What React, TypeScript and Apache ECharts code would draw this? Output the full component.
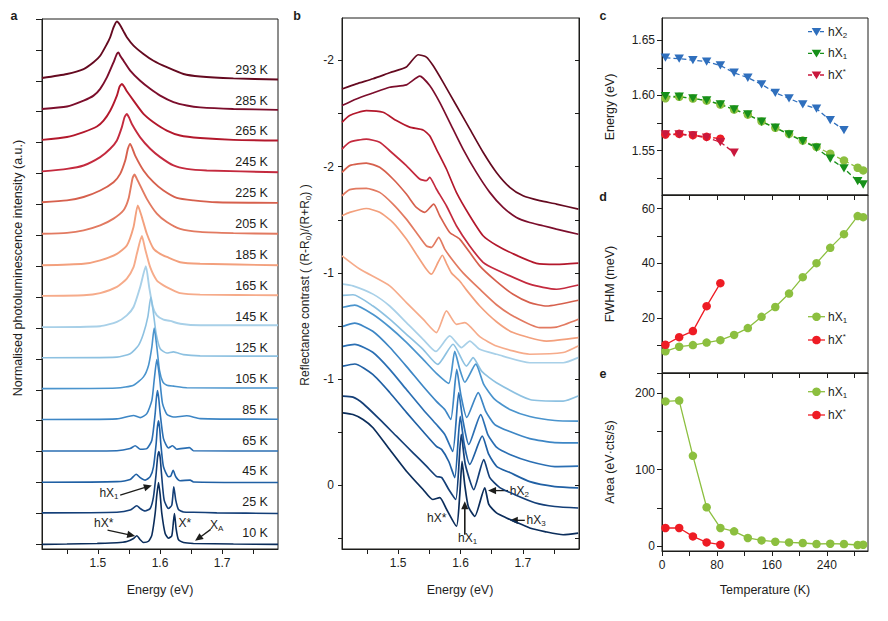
import { useEffect, useRef } from 'react';
import * as echarts from 'echarts';

const FONT = '"Liberation Sans", Arial, Helvetica, sans-serif';
const INK = '#1d1d1b';

// ---------- panels a & b : temperatures, stacking, colours ----------
const temperatureLabels = ['10 K', '25 K', '45 K', '65 K', '85 K', '105 K', '125 K', '145 K', '165 K', '185 K', '205 K', '225 K', '245 K', '265 K', '285 K', '293 K'];
const stackOffsets = [0, 1, 2, 3, 4, 5, 6, 7, 8, 9, 10, 11, 12, 13, 14, 15];
const curveColors = ['#0b2d5b', '#143f78', '#2060a4', '#2b6fb3', '#3d86c5', '#4a94cd', '#8dc1e1', '#a8d0e8', '#f6ab8a', '#f3a07d', '#e27a61', '#d6604d', '#c42a3e', '#b3182c', '#7c0e2c', '#650a20'];

// PL spectra: [energy (eV), normalised intensity]
const pl10K = [[1.41, 0], [1.45, 0.01], [1.4984, 0.03], [1.5306, 0.05], [1.5466, 0.09], [1.5574, 0.19], [1.5627, 0.28], [1.5681, 0.15], [1.5734, 0.06], [1.5815, 0.1], [1.5869, 0.3], [1.5922, 1.0], [1.5949, 1.6], [1.5976, 2.0], [1.6003, 1.6], [1.6029, 1.0], [1.6083, 0.35], [1.6137, 0.2], [1.619, 0.28], [1.6217, 0.75], [1.6233, 1.0], [1.626, 0.5], [1.6297, 0.15], [1.6378, 0.06], [1.6539, 0.03], [1.7182, 0.01], [1.79, 0]];
const pl25K = [[1.41, 0.02], [1.5306, 0.04], [1.552, 0.11], [1.5627, 0.25], [1.5681, 0.16], [1.5761, 0.08], [1.5842, 0.16], [1.5895, 0.54], [1.5938, 1.29], [1.596, 1.8], [1.5981, 2.0], [1.6003, 1.8], [1.6024, 1.29], [1.6067, 0.43], [1.6137, 0.16], [1.619, 0.27], [1.6222, 0.86], [1.6254, 0.43], [1.6297, 0.13], [1.6378, 0.05], [1.6539, 0.04], [1.6914, 0.02], [1.79, 0]];
const pl45K = [[1.41, 0.01], [1.5306, 0.03], [1.552, 0.1], [1.5617, 0.27], [1.5681, 0.16], [1.5761, 0.08], [1.5842, 0.19], [1.5895, 0.51], [1.5938, 1.26], [1.5956, 1.75], [1.5976, 2.0], [1.5995, 1.75], [1.6013, 1.26], [1.6056, 0.51], [1.6137, 0.19], [1.6174, 0.21], [1.6212, 0.4], [1.6254, 0.19], [1.6324, 0.06], [1.6485, 0.08], [1.6539, 0.02], [1.79, 0]];
const pl65K = [[1.41, 0.02], [1.5306, 0.03], [1.552, 0.1], [1.56, 0.19], [1.5681, 0.08], [1.5788, 0.1], [1.5869, 0.37], [1.5922, 1.23], [1.5941, 1.72], [1.596, 1.98], [1.598, 1.72], [1.6003, 1.23], [1.6056, 0.42], [1.6137, 0.12], [1.6201, 0.19], [1.627, 0.08], [1.6474, 0.13], [1.6539, 0.03], [1.79, 0.02]];
const pl85K = [[1.41, 0.04], [1.5306, 0.06], [1.5574, 0.17], [1.5681, 0.1], [1.5788, 0.23], [1.5869, 0.66], [1.5906, 1.31], [1.5949, 1.98], [1.5992, 1.42], [1.604, 0.56], [1.611, 0.21], [1.6217, 0.12], [1.6431, 0.16], [1.6646, 0.07], [1.79, 0.05]];
const pl105K = [[1.41, 0.04], [1.5306, 0.06], [1.5574, 0.15], [1.5734, 0.42], [1.5815, 0.79], [1.5869, 1.39], [1.5906, 2.0], [1.5949, 1.39], [1.5992, 0.63], [1.6045, 0.26], [1.611, 0.15], [1.6217, 0.12], [1.6431, 0.07], [1.79, 0.06]];
const pl125K = [[1.41, 0.04], [1.5306, 0.06], [1.552, 0.17], [1.5654, 0.44], [1.5734, 0.82], [1.5804, 1.36], [1.5852, 2.0], [1.5895, 1.47], [1.5938, 0.82], [1.6003, 0.33], [1.611, 0.19], [1.6217, 0.23], [1.6378, 0.14], [1.6646, 0.1], [1.79, 0.09]];
const pl145K = [[1.41, 0.03], [1.5037, 0.06], [1.5306, 0.2], [1.5466, 0.41], [1.5574, 0.68], [1.5681, 1.33], [1.5772, 2.0], [1.5825, 1.33], [1.5885, 0.68], [1.5949, 0.41], [1.6056, 0.27], [1.6163, 0.23], [1.6324, 0.14], [1.6646, 0.09], [1.79, 0.09]];
const pl165K = [[1.41, 0.04], [1.477, 0.06], [1.5037, 0.13], [1.5306, 0.33], [1.5466, 0.6], [1.5574, 0.97], [1.5627, 1.4], [1.5708, 1.98], [1.5761, 1.56], [1.5842, 0.97], [1.5949, 0.54], [1.6056, 0.38], [1.6163, 0.27], [1.6324, 0.13], [1.6646, 0.08], [1.79, 0.06]];
const pl185K = [[1.41, 0.03], [1.477, 0.08], [1.5037, 0.19], [1.5306, 0.4], [1.5466, 0.67], [1.5574, 1.27], [1.5643, 1.97], [1.5708, 1.59], [1.5788, 1.05], [1.5895, 0.57], [1.6003, 0.4], [1.611, 0.3], [1.6324, 0.13], [1.6646, 0.08], [1.79, 0.03]];
const pl205K = [[1.41, 0.05], [1.4502, 0.08], [1.477, 0.16], [1.5037, 0.32], [1.5252, 0.54], [1.5413, 0.81], [1.5493, 1.18], [1.5558, 1.85], [1.559, 1.97], [1.5622, 1.85], [1.5654, 1.72], [1.5788, 1.18], [1.5949, 0.7], [1.611, 0.43], [1.6324, 0.21], [1.6646, 0.11], [1.7182, 0.07], [1.79, 0.05]];
const pl225K = [[1.41, 0.07], [1.4502, 0.13], [1.477, 0.24], [1.5037, 0.45], [1.5252, 0.72], [1.5359, 0.99], [1.544, 1.42], [1.5483, 1.8], [1.552, 1.96], [1.5558, 1.8], [1.56, 1.58], [1.5734, 1.1], [1.5895, 0.72], [1.6056, 0.45], [1.627, 0.21], [1.6539, 0.13], [1.6914, 0.07], [1.79, 0.05]];
const pl245K = [[1.41, 0.07], [1.4502, 0.15], [1.477, 0.26], [1.5037, 0.53], [1.5198, 0.8], [1.5306, 1.07], [1.5386, 1.5], [1.5429, 1.82], [1.5466, 1.93], [1.5504, 1.8], [1.5547, 1.6], [1.5681, 1.17], [1.5842, 0.8], [1.6003, 0.53], [1.6217, 0.26], [1.6431, 0.15], [1.6753, 0.1], [1.79, 0.04]];
const pl265K = [[1.41, 0.09], [1.4502, 0.18], [1.477, 0.34], [1.4984, 0.52], [1.5091, 0.71], [1.5198, 1.03], [1.5306, 1.52], [1.5349, 1.81], [1.5386, 1.9], [1.5424, 1.81], [1.5466, 1.66], [1.5574, 1.36], [1.5734, 0.93], [1.5895, 0.66], [1.611, 0.39], [1.6324, 0.23], [1.6646, 0.15], [1.7182, 0.09], [1.79, 0.07]];
const pl285K = [[1.41, 0.09], [1.4502, 0.17], [1.477, 0.36], [1.493, 0.52], [1.5037, 0.74], [1.5145, 1.11], [1.5252, 1.6], [1.5306, 1.87], [1.5332, 1.92], [1.5359, 1.81], [1.5413, 1.65], [1.552, 1.33], [1.5681, 1.0], [1.5842, 0.74], [1.6003, 0.52], [1.6217, 0.31], [1.6431, 0.2], [1.6646, 0.14], [1.7182, 0.09], [1.79, 0.06]];
const pl293K = [[1.41, 0.09], [1.4502, 0.22], [1.477, 0.38], [1.493, 0.6], [1.5037, 0.81], [1.5145, 1.19], [1.5198, 1.41], [1.5252, 1.73], [1.5306, 1.92], [1.5359, 1.8], [1.5413, 1.6], [1.5466, 1.41], [1.5574, 1.14], [1.5734, 0.87], [1.5895, 0.65], [1.611, 0.44], [1.6378, 0.22], [1.6646, 0.14], [1.7182, 0.08], [1.79, 0.04]];
const plSpectra = [pl10K, pl25K, pl45K, pl65K, pl85K, pl105K, pl125K, pl145K, pl165K, pl185K, pl205K, pl225K, pl245K, pl265K, pl285K, pl293K];

// Reflectance contrast spectra: [energy (eV), contrast] (offset curves, as plotted)
const rc10K = [[1.4116, -0.341], [1.4276, -0.333], [1.4437, -0.31], [1.4597, -0.271], [1.4865, -0.168], [1.5133, -0.066], [1.54, 0.02], [1.5555, 0.067], [1.5667, 0.058], [1.578, 0.115], [1.5935, 0.193], [1.5988, 0.045], [1.6025, -0.113], [1.6069, 0.0], [1.6125, 0.1], [1.6229, 0.146], [1.6389, 0.012], [1.6454, 0.09], [1.6577, 0.13], [1.6738, 0.154], [1.6871, 0.171], [1.7111, 0.201], [1.7352, 0.218], [1.7646, 0.233], [1.7886, 0.225]];
const rc25K = [[1.4116, -0.42], [1.4276, -0.415], [1.4437, -0.385], [1.4705, -0.31], [1.4973, -0.231], [1.5239, -0.153], [1.5454, -0.09], [1.5614, -0.042], [1.57, -0.036], [1.5812, 0.02], [1.5924, 0.067], [1.6012, -0.24], [1.6077, -0.098], [1.6213, 0.02], [1.6373, -0.121], [1.647, -0.036], [1.663, 0.011], [1.6871, 0.044], [1.7192, 0.082], [1.7512, 0.1], [1.7886, 0.107]];
const rc45K = [[1.4116, -0.561], [1.4304, -0.571], [1.4593, -0.522], [1.4865, -0.437], [1.5133, -0.343], [1.54, -0.253], [1.5614, -0.183], [1.57, -0.168], [1.5812, -0.112], [1.5908, -0.036], [1.5996, -0.324], [1.606, -0.192], [1.6149, -0.098], [1.6349, -0.231], [1.6454, -0.145], [1.6582, -0.088], [1.6791, -0.06], [1.7111, -0.017], [1.7512, 0.006], [1.7886, 0.012]];
const rc65K = [[1.4116, -0.654], [1.4304, -0.663], [1.4593, -0.626], [1.4865, -0.546], [1.5133, -0.451], [1.54, -0.357], [1.5614, -0.286], [1.5748, -0.239], [1.5876, -0.159], [1.5972, -0.436], [1.6036, -0.31], [1.6133, -0.192], [1.6325, -0.333], [1.6438, -0.239], [1.6582, -0.178], [1.6791, -0.145], [1.7111, -0.112], [1.7512, -0.088], [1.7886, -0.09]];
const rc85K = [[1.4116, -0.748], [1.4304, -0.763], [1.4593, -0.725], [1.4865, -0.65], [1.5133, -0.56], [1.54, -0.466], [1.5614, -0.395], [1.5748, -0.357], [1.5844, -0.31], [1.594, -0.546], [1.6004, -0.428], [1.6101, -0.319], [1.6285, -0.436], [1.6405, -0.348], [1.655, -0.286], [1.6791, -0.253], [1.7111, -0.22], [1.7512, -0.201], [1.7886, -0.2]];
const rc105K = [[1.4116, -0.838], [1.4304, -0.848], [1.4593, -0.805], [1.4865, -0.744], [1.5133, -0.673], [1.54, -0.593], [1.5614, -0.527], [1.5812, -0.48], [1.5908, -0.631], [1.5988, -0.546], [1.6069, -0.485], [1.6245, -0.57], [1.6373, -0.475], [1.655, -0.404], [1.6791, -0.357], [1.7111, -0.324], [1.7512, -0.305], [1.7886, -0.302]];
const rc125K = [[1.4116, -0.894], [1.4276, -0.897], [1.4597, -0.844], [1.4865, -0.782], [1.5133, -0.711], [1.54, -0.64], [1.5636, -0.569], [1.5881, -0.664], [1.6096, -0.561], [1.6202, -0.601], [1.6341, -0.536], [1.6577, -0.483], [1.7111, -0.404], [1.7646, -0.396], [1.7886, -0.42]];
const rc145K = [[1.4116, -0.947], [1.4276, -0.939], [1.4597, -0.9], [1.4865, -0.844], [1.5133, -0.766], [1.54, -0.687], [1.5604, -0.63], [1.5828, -0.703], [1.6016, -0.648], [1.6149, -0.679], [1.6309, -0.64], [1.6577, -0.617], [1.7111, -0.577], [1.7646, -0.577], [1.7886, -0.601]];
const rc165K = [[1.41, -1.08], [1.4384, -1.018], [1.4865, -0.939], [1.5133, -0.86], [1.54, -0.782], [1.5614, -0.719], [1.5775, -0.821], [1.5935, -0.758], [1.6069, -0.766], [1.6309, -0.7], [1.6577, -0.656], [1.7111, -0.617], [1.7646, -0.625], [1.7886, -0.656]];
const rc185K = [[1.41, -1.269], [1.4223, -1.285], [1.449, -1.303], [1.4704, -1.285], [1.4918, -1.237], [1.5132, -1.159], [1.5292, -1.088], [1.5453, -1.017], [1.5534, -0.994], [1.5641, -1.05], [1.5709, -1.083], [1.5774, -1.045], [1.5854, -1.0], [1.5987, -0.962], [1.6094, -0.92], [1.6309, -0.844], [1.6577, -0.77], [1.6843, -0.719], [1.7378, -0.679], [1.789, -0.695]];
const rc205K = [[1.41, -1.363], [1.4223, -1.392], [1.449, -1.398], [1.4704, -1.379], [1.4918, -1.324], [1.5132, -1.253], [1.5292, -1.19], [1.5453, -1.127], [1.5534, -1.12], [1.5651, -1.167], [1.5747, -1.112], [1.5881, -1.057], [1.6041, -1.0], [1.6309, -0.923], [1.6577, -0.85], [1.6843, -0.797], [1.7272, -0.742], [1.7538, -0.745], [1.789, -0.782]];
const rc225K = [[1.41, -1.473], [1.4223, -1.505], [1.449, -1.517], [1.4704, -1.497], [1.4918, -1.442], [1.5132, -1.371], [1.5292, -1.308], [1.5426, -1.285], [1.557, -1.324], [1.5667, -1.269], [1.5827, -1.19], [1.5987, -1.159], [1.6308, -1.033], [1.6576, -0.96], [1.6843, -0.899], [1.711, -0.86], [1.7378, -0.844], [1.789, -0.871]];
const rc245K = [[1.41, -1.583], [1.4223, -1.615], [1.449, -1.63], [1.4704, -1.615], [1.4865, -1.575], [1.5132, -1.505], [1.5346, -1.442], [1.5453, -1.434], [1.5506, -1.45], [1.5613, -1.395], [1.5774, -1.316], [1.5934, -1.222], [1.6148, -1.127], [1.6362, -1.05], [1.6576, -1.015], [1.711, -0.947], [1.7538, -0.923], [1.789, -0.943]];
const rc265K = [[1.41, -1.709], [1.4223, -1.741], [1.449, -1.764], [1.4758, -1.756], [1.4972, -1.717], [1.5185, -1.686], [1.5399, -1.673], [1.5506, -1.646], [1.5613, -1.583], [1.5774, -1.489], [1.5934, -1.379], [1.6148, -1.269], [1.6362, -1.175], [1.6576, -1.13], [1.6843, -1.09], [1.7217, -1.045], [1.7538, -1.04], [1.789, -1.046]];
const rc285K = [[1.41, -1.788], [1.433, -1.819], [1.4597, -1.847], [1.4865, -1.874], [1.5132, -1.885], [1.5347, -1.926], [1.5506, -1.882], [1.5667, -1.803], [1.5827, -1.709], [1.6041, -1.583], [1.6255, -1.473], [1.6469, -1.379], [1.6683, -1.308], [1.6897, -1.261], [1.711, -1.237], [1.7324, -1.222], [1.7538, -1.206], [1.789, -1.182]];
const rc293K = [[1.41, -1.866], [1.433, -1.89], [1.4597, -1.914], [1.4865, -1.942], [1.5132, -1.969], [1.532, -2.027], [1.5453, -2.016], [1.556, -1.976], [1.572, -1.898], [1.5934, -1.788], [1.6148, -1.678], [1.6362, -1.568], [1.6576, -1.473], [1.679, -1.403], [1.7003, -1.363], [1.727, -1.34], [1.7538, -1.324], [1.789, -1.3]];
const rcSpectra = [rc10K, rc25K, rc45K, rc65K, rc85K, rc105K, rc125K, rc145K, rc165K, rc185K, rc205K, rc225K, rc245K, rc265K, rc285K, rc293K];

// axis ticks / labels for a & b
const energyTickValues = [1.45, 1.5, 1.55, 1.6, 1.65, 1.7, 1.75];
const energyLabelValues = [1.5, 1.6, 1.7];
const plTickValues = [0, 1, 2, 3, 4, 5, 6, 7, 8, 9, 10, 11, 12, 13, 14, 15, 16, 17];
const rcTickValues = [-2, -1.75, -1.5, -1.25, -1, -0.75, -0.5, -0.25, 0, 0.25];
const rcLabelValues = [-2, -1.5, -1, -0.5, 0];
const rcLabelTexts = ['-2', '-2', '-1', '-1', '0'];

// ---------- panels c, d, e ----------
const temperatures = [5, 25, 45, 65, 85, 105, 125, 145, 165, 185, 205, 225, 245, 265, 285, 293];
const energyHX2 = [1.6341, 1.6332, 1.6319, 1.6305, 1.6271, 1.6205, 1.616, 1.61, 1.6024, 1.5973, 1.5919, 1.588, 1.5777, 1.5686];
const energyHX1Refl = [1.5994, 1.5988, 1.5973, 1.5955, 1.5919, 1.5873, 1.5828, 1.5762, 1.5708, 1.5647, 1.5587, 1.5527, 1.5428, 1.534, 1.5225, 1.5195];
const energyHX1PL = [1.5975, 1.5988, 1.5972, 1.5953, 1.5917, 1.5872, 1.5826, 1.5765, 1.5707, 1.5652, 1.5592, 1.5535, 1.5473, 1.5412, 1.5346, 1.5322];
const energyHXsRefl = [1.5647, 1.5647, 1.5638, 1.5618, 1.5578, 1.5482];
const energyHXsPL = [1.5647, 1.5653, 1.5641, 1.5626, 1.5608];
const fwhmHX1 = [7.9, 9.6, 10.2, 11.1, 12.0, 13.9, 16.4, 20.5, 24.1, 29.0, 35.0, 40.1, 45.7, 50.7, 57.3, 56.9];
const fwhmHXs = [10.3, 13.1, 15.3, 24.4, 32.8];
const areaHX1 = [189, 190, 118, 51, 24, 19.6, 11, 7.8, 6.1, 5.2, 4.4, 3.1, 3.5, 3.1, 1.8, 2.2];
const areaHXs = [24, 24, 13, 5.2, 2.2];

const tempTickValues = [0, 40, 80, 120, 160, 200, 240, 280];
const tempLabelValues = [0, 80, 160, 240];
const cTickValues = [1.525, 1.55, 1.575, 1.6, 1.625, 1.65];
const cLabelValues = [1.55, 1.6, 1.65];
const dTickValues = [0, 10, 20, 30, 40, 50, 60];
const dLabelValues = [20, 40, 60];
const eTickValues = [0, 50, 100, 150, 200];
const eLabelValues = [0, 100, 200];

const COL_BLUE = '#2f6fbd';
const COL_DGREEN = '#17901a';
const COL_LGREEN = '#8cbf3f';
const COL_CRIMSON = '#c9183d';
const COL_RED = '#ee1c24';

// annotations (data coordinates)
const plNotes = [
  { base: 'hX', sub: '1', at: [1.5332, 1.668], align: 'right' },
  { base: 'hX*', sub: '', at: [1.5251, 0.698], align: 'right' },
  { base: 'X*', sub: '', at: [1.6296, 0.698], align: 'left' },
  { base: 'X', sub: 'A', at: [1.6806, 0.64], align: 'left' },
];
const plArrows = [
  [[1.5359, 1.593], [1.5868, 1.907]],
  [[1.5155, 0.462], [1.56, 0.268]],
  [[1.6817, 0.485], [1.6565, 0.116]],
];
const rcNotes = [
  { base: 'hX*', sub: '', at: [1.5775, 0.154], align: 'right' },
  { base: 'hX', sub: '1', at: [1.5961, 0.25], align: 'left' },
  { base: 'hX', sub: '2', at: [1.6791, 0.025], align: 'left' },
  { base: 'hX', sub: '3', at: [1.7058, 0.162], align: 'left' },
];
const rcArrows = [
  [[1.6069, 0.233], [1.6069, 0.075]],
  [[1.6763, 0.025], [1.6442, 0.025]],
  [[1.7031, 0.165], [1.6791, 0.165]],
];
const labelEnergy = 1.7738;
const labelLift = 0.36;

const TRI_DOWN = 'path://M0,0L10,0L5,8.7Z';

const RICH = {
  n: { fontSize: 12, fontFamily: FONT, fill: INK, lineHeight: 15 },
  s: { fontSize: 8, fontFamily: FONT, fill: INK, lineHeight: 6, verticalAlign: 'bottom' },
  p: { fontSize: 8, fontFamily: FONT, fill: INK, lineHeight: 6, verticalAlign: 'top' },
};

const axisLineStyle = { show: true, onZero: false, lineStyle: { color: INK, width: 1 } };
const labelStyle = { fontFamily: FONT, fontSize: 12, color: INK };

function buildOption(): any {
  const series: any[] = [];
  for (let k = plSpectra.length - 1; k >= 0; k--) {
    series.push({
      type: 'line', xAxisIndex: 0, yAxisIndex: 0, showSymbol: false, smooth: 0.2,
      data: plSpectra[k].map(([e, v]) => [e, v + stackOffsets[k]]),
      lineStyle: { color: curveColors[k], width: k >= 7 ? 1.9 : 1.6 }, silent: true,
    });
  }
  for (let k = rcSpectra.length - 1; k >= 0; k--) {
    series.push({
      type: 'line', xAxisIndex: 1, yAxisIndex: 1, showSymbol: false, smooth: 0.2,
      data: rcSpectra[k],
      lineStyle: { color: curveColors[k], width: 1.7 }, silent: true,
    });
  }
  const zip = (vals: number[]) => vals.map((v, i) => [temperatures[i], v]);
  const dotSeries = (x: number, y: number, vals: number[], color: string, symbol: string, dashed: boolean) => ({
    type: 'line', xAxisIndex: x, yAxisIndex: y, data: zip(vals), symbol,
    symbolSize: symbol === 'circle' ? 8.5 : [9.5, 8.3], showSymbol: true,
    itemStyle: { color }, lineStyle: { color, width: 1.3, type: dashed ? [5, 3] : 'solid' }, silent: true,
  });
  series.push(dotSeries(2, 3, energyHX1PL, COL_LGREEN, 'circle', true));
  series.push(dotSeries(2, 3, energyHX1Refl, COL_DGREEN, TRI_DOWN, true));
  series.push(dotSeries(2, 3, energyHX2, COL_BLUE, TRI_DOWN, true));
  series.push(dotSeries(2, 3, energyHXsPL, COL_RED, 'circle', true));
  series.push(dotSeries(2, 3, energyHXsRefl, COL_CRIMSON, TRI_DOWN, true));
  series.push(dotSeries(3, 4, fwhmHX1, COL_LGREEN, 'circle', false));
  series.push(dotSeries(3, 4, fwhmHXs, COL_RED, 'circle', false));
  series.push(dotSeries(4, 5, areaHX1, COL_LGREEN, 'circle', false));
  series.push(dotSeries(4, 5, areaHXs, COL_RED, 'circle', false));

  const gridBase = { show: true, borderColor: INK, borderWidth: 1, backgroundColor: 'transparent', containLabel: false };
  const energyAxis = (gi: number) => ({
    type: 'value', gridIndex: gi, min: 1.41, max: 1.79, axisLine: axisLineStyle, splitLine: { show: false },
    axisTick: { show: true, customValues: energyTickValues, length: 5, lineStyle: { color: INK } },
    axisLabel: { ...labelStyle, customValues: energyLabelValues, margin: 8, formatter: (v: number) => v.toFixed(1) },
  });
  const tempAxis = (gi: number, labels: boolean) => ({
    type: 'value', gridIndex: gi, min: 0, max: 300, axisLine: axisLineStyle, splitLine: { show: false },
    axisTick: { show: true, customValues: tempTickValues, length: 5, lineStyle: { color: INK } },
    axisLabel: labels ? { ...labelStyle, customValues: tempLabelValues, margin: 8, formatter: (v: number) => String(v) } : { show: false },
  });
  return {
    animation: false,
    backgroundColor: '#ffffff',
    grid: [
      { ...gridBase, left: 42, top: 19, width: 236, height: 530 },
      { ...gridBase, left: 342, top: 18, width: 237, height: 531 },
      { ...gridBase, left: 662, top: 18, width: 206, height: 177 },
      { ...gridBase, left: 662, top: 195, width: 206, height: 178 },
      { ...gridBase, left: 662, top: 373, width: 206, height: 178 },
    ],
    xAxis: [energyAxis(0), energyAxis(1), tempAxis(2, false), tempAxis(3, false), tempAxis(4, true)],
    yAxis: [
      {
        type: 'value', gridIndex: 0, min: -0.15, max: 17, axisLine: axisLineStyle, splitLine: { show: false },
        axisTick: { show: true, customValues: plTickValues, length: 6, lineStyle: { color: INK } }, axisLabel: { show: false },
      },
      {
        type: 'value', gridIndex: 1, min: -2.2, max: 0.3, inverse: true, axisLine: axisLineStyle, splitLine: { show: false },
        axisTick: { show: true, customValues: rcTickValues, length: 4, lineStyle: { color: INK } },
        axisLabel: {
          ...labelStyle, customValues: rcLabelValues, margin: 8,
          formatter: (v: number) => { const i = rcLabelValues.findIndex((x) => Math.abs(x - v) < 1e-6); return i >= 0 ? rcLabelTexts[i] : ''; },
        },
      },
      {
        type: 'value', gridIndex: 1, position: 'right', min: -2.2, max: 0.3, inverse: true, axisLine: axisLineStyle, splitLine: { show: false },
        axisTick: { show: true, inside: true, customValues: rcTickValues, length: 4, lineStyle: { color: INK } }, axisLabel: { show: false },
      },
      {
        type: 'value', gridIndex: 2, min: 1.51, max: 1.67, axisLine: axisLineStyle, splitLine: { show: false },
        axisTick: { show: true, customValues: cTickValues, length: 5, lineStyle: { color: INK } },
        axisLabel: { ...labelStyle, customValues: cLabelValues, margin: 7, formatter: (v: number) => v.toFixed(2) },
      },
      {
        type: 'value', gridIndex: 3, min: 0, max: 65, axisLine: axisLineStyle, splitLine: { show: false },
        axisTick: { show: true, customValues: dTickValues, length: 5, lineStyle: { color: INK } },
        axisLabel: { ...labelStyle, customValues: dLabelValues, margin: 7, formatter: (v: number) => String(v) },
      },
      {
        type: 'value', gridIndex: 4, min: -6, max: 226, axisLine: axisLineStyle, splitLine: { show: false },
        axisTick: { show: true, customValues: eTickValues, length: 5, lineStyle: { color: INK } },
        axisLabel: { ...labelStyle, customValues: eLabelValues, margin: 7, formatter: (v: number) => String(v) },
      },
    ],
    series,
  };
}

function richText(base: string, sub: string, sup: boolean) {
  if (sub) return `{n|${base}}{s|${sub}}`;
  if (sup) return `{n|${base}}{p|*}`;
  return `{n|${base}}`;
}

function arrow(p1: number[], p2: number[], w = 1.3): any[] {
  const dx = p2[0] - p1[0];
  const dy = p2[1] - p1[1];
  const L = Math.hypot(dx, dy) || 1;
  const ux = dx / L;
  const uy = dy / L;
  const hl = 8;
  const hw = 3.6;
  const bx = p2[0] - ux * hl;
  const by = p2[1] - uy * hl;
  return [
    { type: 'line', silent: true, shape: { x1: p1[0], y1: p1[1], x2: bx + ux, y2: by + uy }, style: { stroke: INK, lineWidth: w } },
    { type: 'polygon', silent: true, shape: { points: [[p2[0], p2[1]], [bx - uy * hw, by + ux * hw], [bx + uy * hw, by - ux * hw]] }, style: { fill: INK } },
  ];
}

function legendItem(x: number, y: number, color: string, marker: string, sub: string, dashed: boolean): any[] {
  const els: any[] = [
    { type: 'line', silent: true, shape: { x1: x, y1: y, x2: x + 17, y2: y }, style: { stroke: color, lineWidth: 1.3, lineDash: dashed ? [4, 2] : [0] } },
  ];
  if (marker === 'tri') {
    els.push({ type: 'polygon', silent: true, shape: { points: [[x + 8.5 - 4.8, y - 3.6], [x + 8.5 + 4.8, y - 3.6], [x + 8.5, y + 4.3]] }, style: { fill: color } });
  } else {
    els.push({ type: 'circle', silent: true, shape: { cx: x + 8.5, cy: y, r: 4.3 }, style: { fill: color } });
  }
  els.push({ type: 'text', silent: true, x: x + 20, y, style: { text: richText('hX', sub, !sub), rich: RICH, align: 'left', verticalAlign: 'middle' } });
  return els;
}

function plainText(x: number, y: number, text: string, size = 12.5, extra: any = {}) {
  return { type: 'text', silent: true, x, y, rotation: extra.rotation || 0, style: { text, fontFamily: FONT, fontSize: size, fill: INK, align: 'center', verticalAlign: 'middle', fontWeight: extra.bold ? 'bold' : 'normal' } };
}

function buildGraphics(chart: any): any[] {
  const g: any[] = [];
  const pa = (p: number[]) => chart.convertToPixel({ xAxisIndex: 0, yAxisIndex: 0 }, p) as number[];
  const pb = (p: number[]) => chart.convertToPixel({ xAxisIndex: 1, yAxisIndex: 1 }, p) as number[];

  temperatureLabels.forEach((t, k) => {
    const p = pa([labelEnergy, stackOffsets[k] + labelLift]);
    g.push({ type: 'text', silent: true, x: p[0], y: p[1], style: { text: t, fontFamily: FONT, fontSize: 12.5, fill: INK, align: 'right', verticalAlign: 'middle' } });
  });
  plNotes.forEach((n) => {
    const p = pa(n.at);
    g.push({ type: 'text', silent: true, x: p[0], y: p[1], style: { text: richText(n.base, n.sub, false), rich: RICH, align: n.align, verticalAlign: 'middle' } });
  });
  plArrows.forEach(([a, b]) => g.push(...arrow(pa(a), pa(b))));
  rcNotes.forEach((n) => {
    const p = pb(n.at);
    g.push({ type: 'text', silent: true, x: p[0], y: p[1], style: { text: richText(n.base, n.sub, false), rich: RICH, align: n.align, verticalAlign: 'middle' } });
  });
  rcArrows.forEach(([a, b], i) => g.push(...arrow(pb(a), pb(b), i === 0 ? 1.6 : 1.3)));

  g.push(plainText(14, 16, 'a', 12.5, { bold: true }));
  g.push(plainText(297, 16, 'b', 12.5, { bold: true }));
  g.push(plainText(603, 16, 'c', 12.5, { bold: true }));
  g.push(plainText(603, 197, 'd', 12.5, { bold: true }));
  g.push(plainText(603, 374, 'e', 12.5, { bold: true }));

  g.push(plainText(160, 590, 'Energy (eV)'));
  g.push(plainText(460, 590, 'Energy (eV)'));
  g.push(plainText(765, 590, 'Temperature (K)'));
  g.push(plainText(18, 268, 'Normalised photoluminescence intensity (a.u.)', 12.5, { rotation: Math.PI / 2 }));
  g.push({
    type: 'text', silent: true, x: 305, y: 285, rotation: Math.PI / 2,
    style: { text: '{n|Reflectance contrast ( (R-R}{s|0}{n|)/(R+R}{s|0}{n|) )}', rich: RICH, align: 'center', verticalAlign: 'middle' },
  });
  g.push(plainText(610, 107, 'Energy (eV)', 12.5, { rotation: Math.PI / 2 }));
  g.push(plainText(610, 284, 'FWHM (meV)', 12.5, { rotation: Math.PI / 2 }));
  g.push(plainText(610, 462, 'Area (eV\u00b7cts/s)', 12.5, { rotation: Math.PI / 2 }));

  g.push(...legendItem(808, 31.7, COL_BLUE, 'tri', '2', true));
  g.push(...legendItem(808, 53.3, COL_DGREEN, 'tri', '1', true));
  g.push(...legendItem(808, 75, COL_CRIMSON, 'tri', '', true));
  g.push(...legendItem(808, 316.7, COL_LGREEN, 'circle', '1', false));
  g.push(...legendItem(808, 340, COL_RED, 'circle', '', false));
  g.push(...legendItem(808, 391.7, COL_LGREEN, 'circle', '1', false));
  g.push(...legendItem(808, 415, COL_RED, 'circle', '', false));
  return g;
}

export default function App() {
  const ref = useRef<HTMLDivElement>(null);
  useEffect(() => {
    document.body.style.margin = '0';
    const el = ref.current as HTMLDivElement;
    const chart = echarts.init(el, undefined, { renderer: 'svg' });
    chart.setOption(buildOption());
    chart.setOption({ graphic: { elements: buildGraphics(chart) } });
    return () => chart.dispose();
  }, []);
  return <div ref={ref} style={{ width: 888, height: 621, background: '#fff' }} />;
}
